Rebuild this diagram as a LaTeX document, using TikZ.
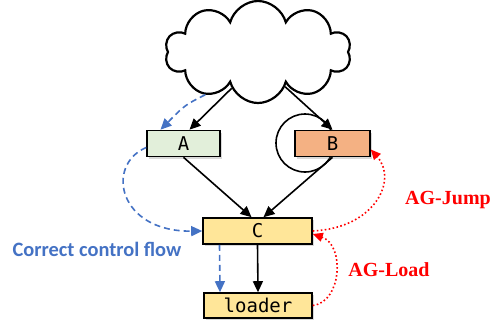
\documentclass[tikz,border=0pt]{standalone}
\usepackage{fontspec}
\setmainfont{Liberation Serif}
\newfontfamily\codefont{DejaVu Sans Mono}
\newfontfamily\calfont{Carlito}
\usepackage{tikz}
\usetikzlibrary{arrows.meta,shapes,shadows}
\definecolor{flowblue}{HTML}{4472C4}
\definecolor{boxgreen}{HTML}{E2EFDA}
\definecolor{boxorange}{HTML}{F4B183}
\definecolor{boxyellow}{HTML}{FFE699}

\begin{document}
\begin{tikzpicture}[x=1pt,y=-1pt,
  box/.style={draw, line width=1.6pt, inner sep=0pt, minimum height=26pt,
    font=\codefont\fontsize{19}{19}\selectfont,
    drop shadow={opacity=0.3, shadow xshift=2pt, shadow yshift=-2pt}},
  flow/.style={line width=1.6pt, -{Triangle[length=11pt,width=10pt]}},
  good/.style={flowblue, line width=1.6pt, dash pattern=on 6pt off 4pt,
    -{Triangle[length=11pt,width=10pt]}},
  attack/.style={red, line width=1.6pt, dash pattern=on 1.6pt off 2.4pt,
    -{Triangle[length=10pt,width=9pt]}}]
\useasboundingbox (0,0) rectangle (495,327);
% cloud and self loop
\node[cloud, cloud puffs=10, draw, line width=2.2pt, minimum width=186pt, minimum height=102pt] (cloud) at (258,52) {};
\draw[line width=1.6pt] (305,143) circle (29pt);
% boxes
\node[box, fill=boxgreen, minimum width=73pt] (A) at (183.5,143.5) {A};
\node[box, fill=boxorange, minimum width=75pt] (B) at (332.5,143.5) {B};
\node[box, fill=boxyellow, minimum width=109pt] (C) at (257.5,231) {C};
\node[box, fill=boxyellow, minimum width=108pt, minimum height=25pt] (loader) at (258,305.5) {loader};
% black edges
\draw[flow] (cloud.-126) -- ([xshift=6pt]A.north);
\draw[flow] (cloud.-52) -- (B.north);
\draw[flow] (A.south) -- ([xshift=-6pt]C.north);
\draw[flow] (B.south) -- ([xshift=6pt]C.north);
\draw[flow] (C.south) -- (loader.north);
% correct flow
\draw[good] (cloud.-141) .. controls (185,105) .. ([xshift=-23pt]A.north);
\draw[good] ([yshift=-4pt]A.west) .. controls (105,165) and (118,232) .. (C.west);
\draw[good] ([xshift=-38pt]C.south) -- ([xshift=-38pt]loader.north);
\node[font=\calfont\bfseries\fontsize{20.4}{20.4}\selectfont, text=flowblue] (good) at (97,249) {Correct control flow};
% attacks
\draw[attack] (C.east) .. controls (375,228) and (398,180) .. ([yshift=-6pt]B.east);
\draw[attack] (loader.east) .. controls (342,302) and (345,245) .. ([yshift=-3pt]C.east);
\node[font=\bfseries\fontsize{20}{20}\selectfont, text=red] (jump) at (448,200) {AG-Jump};
\node[font=\bfseries\fontsize{20}{20}\selectfont, text=red] (load) at (389,270) {AG-Load};
\end{tikzpicture}
\end{document}
